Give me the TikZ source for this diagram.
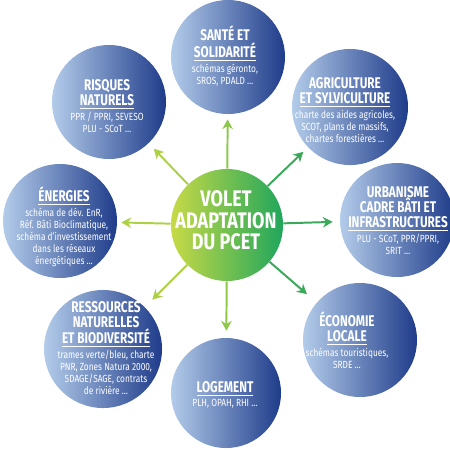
\documentclass[tikz,border=0pt]{standalone}
\usepackage{fontspec}
\setmainfont{Fira Sans}
\newfontfamily\condfont{Fira Sans}[FakeStretch=0.8]
\newfontfamily\headfont{Fira Sans}[FakeStretch=0.76]
\usepackage{xcolor}
\usetikzlibrary{arrows.meta,positioning}

\definecolor{bubbleLight}{HTML}{B3CCEA}
\definecolor{bubbleMid}{HTML}{5F80C0}
\definecolor{bubbleDark}{HTML}{1F3C8A}
\definecolor{coreLeft}{HTML}{C8DA46}
\definecolor{coreMid}{HTML}{84C44C}
\definecolor{coreRight}{HTML}{1FA65C}
\definecolor{arrowLime}{HTML}{ADD045}
\definecolor{arrowLeaf}{HTML}{8DC84A}
\definecolor{arrowGreen}{HTML}{3AAA5A}

% underlined last line of a heading
\newcommand{\ulbar}[1]{\vtop{\hbox{#1}\kern1.5pt\hrule height 0.9pt}}

\begin{document}
\begin{tikzpicture}[x=0.025cm, y=-0.025cm,
  bubble/.style={circle, inner sep=0pt, minimum size=2.85cm,
    left color=bubbleLight, middle color=bubbleMid, right color=bubbleDark},
  core/.style={circle, inner sep=0pt, minimum size=2.8cm,
    left color=coreLeft, middle color=coreMid, right color=coreRight},
  heading/.style={font=\headfont\bfseries\fontsize{11}{10.7}\selectfont,
    text=white, align=center, inner sep=0pt, anchor=south},
  details/.style={font=\condfont\fontsize{7.4}{8.5}\selectfont,
    text=white, align=center, inner sep=0pt},
  spoke/.style={-{Stealth[length=7pt,width=7.5pt]}, line width=1.4pt}]

\useasboundingbox (0,0) rectangle (450,450);
\fill[white] (0,0) rectangle (450,450);
\clip (0,0) rectangle (450,450);

% ======================================================================
% RING OF THEMES (pixel grid, y downwards)
% ======================================================================
\node[bubble] (sante) at (228,57) {};
\node[bubble, minimum size=2.9cm] (agri) at (350,107) {};
\node[bubble] (urba) at (397,220) {};
\node[bubble] (eco) at (360,340) {};
\node[bubble, minimum size=2.75cm] (loge) at (226,393) {};
\node[bubble, minimum size=2.95cm] (ress) at (103,349) {};
\node[bubble] (ener) at (60,221) {};
\node[bubble] (risq) at (109,102) {};

% centre
\node[core] (pcet) at (227,225) {};
\node[font=\condfont\bfseries\fontsize{16}{15.4}\selectfont, text=white,
      align=center, inner sep=0pt] (pcetT) at (226,220.5)
  {VOLET\\ADAPTATION\\DU PCET};

% spokes (gap = distance left before the bubble)
\foreach \topic/\col/\gap in {sante/arrowLeaf/5, agri/arrowGreen/6.4,
    urba/arrowGreen/7, eco/arrowGreen/12.8, loge/arrowLeaf/7,
    ress/arrowLime/10.4, ener/arrowLime/4, risq/arrowLime/7.4}{
  \draw[spoke, draw=\col, shorten >=\gap*0.025cm] (pcet) -- (\topic);
}

% ======================================================================
% HEADINGS + DETAILS
% ======================================================================
\node[heading] (santeT) at (225,61.2) {SANTÉ ET\\\ulbar{SOLIDARITÉ}};
\node[details, below=2pt of santeT] (santeD)
  {schémas géronto,\\SROS, PDALD …};

\node[heading] (agriT) at (345,107.5) {AGRICULTURE\\\ulbar{ET SYLVICULTURE}};
\node[details, below=2pt of agriT] (agriD)
  {charte des aides agricoles,\\SCOT, plans de massifs,\\chartes forestières …};

\node[heading] (urbaT) at (398,231.5)
  {URBANISME\\CADRE BÂTI ET\\\ulbar{INFRASTRUCTURES}};
\node[details, below=2pt of urbaT] (urbaD) {PLU - SCoT, PPR/PPRI,\\SRIT …};

\node[heading] (ecoT) at (347,345.5) {ÉCONOMIE\\\ulbar{LOCALE}};
\node[details, below=2pt of ecoT] (ecoD) {schémas touristiques,\\SRDE …};

\node[heading] (logeT) at (225,396.2) {\ulbar{LOGEMENT}};
\node[details, below=2pt of logeT] (logeD) {PLH, OPAH, RHI …};

\node[heading] (ressT) at (106,347.5)
  {RESSOURCES\\NATURELLES\\\ulbar{ET BIODIVERSITÉ}};
\node[details, below=2pt of ressT] (ressD)
  {trames verte/bleu, charte\\PNR, Zones Natura 2000,\\SDAGE/SAGE, contrats\\de rivière …};

\node[heading] (enerT) at (64,205.2) {\ulbar{ÉNERGIES}};
\node[details, below=2pt of enerT] (enerD)
  {schéma de dév. EnR,\\Réf. Bâti Bioclimatique,\\schéma d’investissement\\dans les réseaux\\énergétiques …};

\node[heading] (risqT) at (107,109.5) {RISQUES\\\ulbar{NATURELS}};
\node[details, below=2pt of risqT] (risqD) {PPR / PPRI, SEVESO\\PLU - SCoT …};

\end{tikzpicture}
\end{document}
